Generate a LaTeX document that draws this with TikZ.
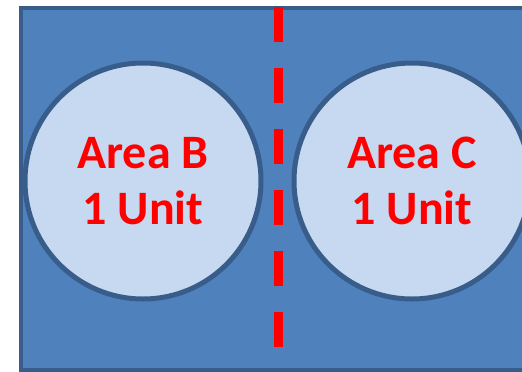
\documentclass[tikz,border=0pt]{standalone}
\usepackage{fontspec}
\setmainfont{Carlito}
\usepackage{xcolor}
\usepackage{tikz}
\usetikzlibrary{positioning}

\definecolor{fieldblue}{HTML}{4F81BD}
\definecolor{edgeblue}{HTML}{385D8A}
\definecolor{discblue}{HTML}{C6D9F1}

\tikzset{
  area/.style={circle, draw=edgeblue, line width=5pt, fill=discblue,
    minimum size=236pt, inner sep=0pt, align=center, text=red,
    font=\fontsize{48}{56}\selectfont\bfseries},
  divider/.style={draw=red, line width=9pt, dash pattern=on 35pt off 26pt}
}

\begin{document}
\begin{tikzpicture}[x=1pt, y=-1pt]
  \useasboundingbox (0,0) rectangle (522,372);
  \clip (0,0) rectangle (522,372);
  \draw[edgeblue, fill=fieldblue, line width=4pt] (21,7.5) rectangle (545,370);
  \coordinate (divtop) at (278,7);
  \coordinate (divbot) at (278,372);
  \draw[divider] (divtop) -- (divbot);
  \node[area] (areaB) at (143,181) {Area B\\1 Unit};
  \node[area] (areaC) at (412,181) {Area C\\1 Unit};
\end{tikzpicture}
\end{document}
